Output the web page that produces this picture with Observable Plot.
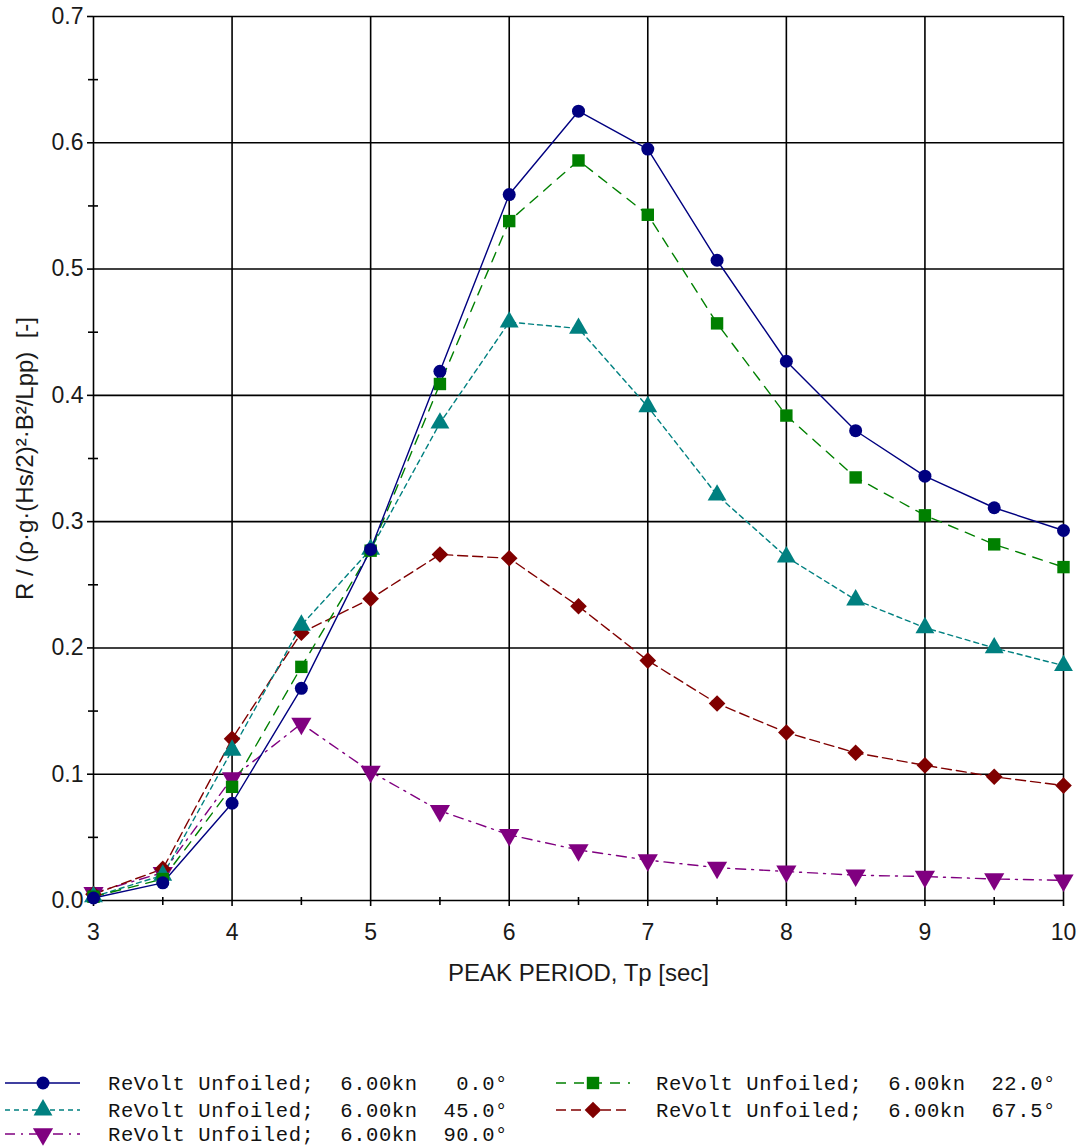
<!DOCTYPE html>
<html>
<head>
<meta charset="utf-8">
<script src="https://cdn.jsdelivr.net/npm/d3@7"></script>
<script src="https://cdn.jsdelivr.net/npm/@observablehq/plot@0.6"></script>
<style>
  html, body { margin: 0; padding: 0; background: #fff; }
  #chart { width: 1079px; }
  #legend text { white-space: pre; }
</style>
</head>
<body>
<div id="chart"></div>
<script>
// ---- data ----
const tp = [3, 3.5, 4, 4.5, 5, 5.5, 6, 6.5, 7, 7.5, 8, 8.5, 9, 9.5, 10];
const heading0   = [0.002, 0.014, 0.077, 0.168, 0.278, 0.419, 0.559, 0.625, 0.595, 0.507, 0.427, 0.372, 0.336, 0.311, 0.293];
const heading22  = [0.003, 0.017, 0.090, 0.185, 0.277, 0.409, 0.538, 0.586, 0.543, 0.457, 0.384, 0.335, 0.305, 0.282, 0.264];
const heading45  = [0.003, 0.020, 0.119, 0.218, 0.278, 0.378, 0.458, 0.453, 0.391, 0.321, 0.272, 0.238, 0.216, 0.200, 0.186];
const heading675 = [0.005, 0.025, 0.128, 0.212, 0.239, 0.274, 0.271, 0.233, 0.190, 0.156, 0.133, 0.117, 0.107, 0.098, 0.091];
const heading90  = [0.006, 0.022, 0.097, 0.140, 0.102, 0.071, 0.052, 0.040, 0.032, 0.026, 0.023, 0.020, 0.019, 0.017, 0.016];
const seriesLabels = [
  "ReVolt Unfoiled;  6.00kn   0.0°",
  "ReVolt Unfoiled;  6.00kn  22.0°",
  "ReVolt Unfoiled;  6.00kn  45.0°",
  "ReVolt Unfoiled;  6.00kn  67.5°",
  "ReVolt Unfoiled;  6.00kn  90.0°"
];
const xTicks = [3, 4, 5, 6, 7, 8, 9, 10];
const xMinor = [3.5, 4.5, 5.5, 6.5, 7.5, 8.5, 9.5];
const yTicks = [0, 0.1, 0.2, 0.3, 0.4, 0.5, 0.6, 0.7];
const yMinor = [0.05, 0.15, 0.25, 0.35, 0.45, 0.55, 0.65];
const xLabel = "PEAK PERIOD, Tp [sec]";
const yLabel = "R / (ρ·g·(Hs/2)²·B²/Lpp)  [-]";

// ---- styles ----
const sqrt3 = Math.sqrt(3);
const triangleDown = {
  draw(context, size) {
    const y = -Math.sqrt(size / (sqrt3 * 3));
    context.moveTo(0, -y * 2);
    context.lineTo(-sqrt3 * y, y);
    context.lineTo(sqrt3 * y, y);
    context.closePath();
  }
};
const seriesValues = [heading0, heading22, heading45, heading675, heading90];
const styles = [
  {color: "#000080", dash: null,          symbol: "circle",   r: 6.5, d3sym: d3.symbolCircle},
  {color: "#008000", dash: "10,8",        symbol: "square",   r: 7,   d3sym: d3.symbolSquare},
  {color: "#008080", dash: "5,4",         symbol: "triangle", r: 7,   d3sym: d3.symbolTriangle},
  {color: "#800000", dash: "10,5",        symbol: "diamond2", r: 7.5, d3sym: d3.symbolDiamond2},
  {color: "#800080", dash: "10,6,2,6",    symbol: triangleDown, r: 7.5, d3sym: triangleDown}
];
const series = seriesValues.map((vals, i) => ({
  label: seriesLabels[i],
  style: styles[i],
  rows: tp.map((t, j) => ({tp: t, value: vals[j]}))
}));

const drawOrder = [4, 3, 2, 1, 0];
const lineMarks = drawOrder.map(i => Plot.line(series[i].rows, {
  x: "tp", y: "value", stroke: series[i].style.color, strokeWidth: 1.4,
  strokeDasharray: series[i].style.dash, curve: "linear"
}));
const dotMarks = drawOrder.map(i => Plot.dot(series[i].rows, {
  x: "tp", y: "value", symbol: series[i].style.symbol, r: series[i].style.r,
  fill: series[i].style.color, stroke: "none"
}));

const textColor = "#1a1a1a";
const chart = Plot.plot({
  width: 1079,
  height: 1010,
  marginLeft: 93,
  marginRight: 16,
  marginTop: 16,
  marginBottom: 110,
  style: {fontFamily: "'Liberation Sans', Arial, sans-serif", background: "#fff", color: textColor, overflow: "visible"},
  x: {domain: [3, 10]},
  y: {domain: [0, 0.7]},
  marks: [
    Plot.gridX(xTicks, {stroke: "#000", strokeOpacity: 1, strokeWidth: 1.6}),
    Plot.gridY(yTicks, {stroke: "#000", strokeOpacity: 1, strokeWidth: 1.6}),
    Plot.axisY(yTicks, {tickSize: 6, tickPadding: 4, fontSize: 23, tickFormat: d => d.toFixed(1),
      stroke: "#000", strokeWidth: 1.6, label: null, fill: textColor}),
    Plot.axisY(yMinor, {tickSize: 10, dx: 5, tickFormat: () => "", stroke: "#000", strokeWidth: 1.6, label: null}),
    Plot.axisX(xTicks, {tickSize: 6, tickPadding: 17, fontSize: 23, tickFormat: d => String(d),
      stroke: "#000", strokeWidth: 1.6, label: null, fill: textColor}),
    Plot.axisX(xMinor, {tickSize: 8, dy: -3, tickFormat: () => "", stroke: "#000", strokeWidth: 1.6, label: null}),
    Plot.text([xLabel], {frameAnchor: "bottom", dy: 73, lineAnchor: "middle", fontSize: 24, fill: textColor}),
    Plot.text([yLabel], {frameAnchor: "left", dx: -68, rotate: -90, textAnchor: "middle", lineAnchor: "middle", fontSize: 24, fill: textColor}),
    ...lineMarks,
    ...dotMarks
  ]
});
document.getElementById("chart").appendChild(chart);

// ---- legend below the chart ----
const legendH = 137;
const legend = d3.select("#chart").append("svg")
  .attr("id", "legend")
  .attr("width", 1079).attr("height", legendH)
  .style("display", "block");
const legendSlots = [
  {i: 0, x0: 5,   x1: 80,  mx: 43,  tx: 108, y: 73},
  {i: 2, x0: 5,   x1: 80,  mx: 43,  tx: 108, y: 100},
  {i: 4, x0: 5,   x1: 80,  mx: 43,  tx: 108, y: 124},
  {i: 1, x0: 556, x1: 630, mx: 593, tx: 656, y: 73},
  {i: 3, x0: 556, x1: 630, mx: 593, tx: 656, y: 100}
];
for (const s of legendSlots) {
  const st = series[s.i].style;
  legend.append("line")
    .attr("x1", s.x0).attr("x2", s.x1).attr("y1", s.y).attr("y2", s.y)
    .attr("stroke", st.color).attr("stroke-width", 1.4)
    .attr("stroke-dasharray", st.dash);
  legend.append("path")
    .attr("transform", `translate(${s.mx},${s.y})`)
    .attr("d", d3.symbol(st.d3sym, Math.PI * st.r * st.r)())
    .attr("fill", st.color);
  legend.append("text")
    .attr("x", s.tx).attr("y", s.y).attr("dy", "0.35em")
    .attr("font-family", "'Liberation Mono', 'DejaVu Sans Mono', monospace")
    .attr("font-size", 20.5)
    .attr("letter-spacing", 0.6)
    .attr("fill", "#111")
    .attr("xml:space", "preserve")
    .text(series[s.i].label);
}
</script>
</body>
</html>
